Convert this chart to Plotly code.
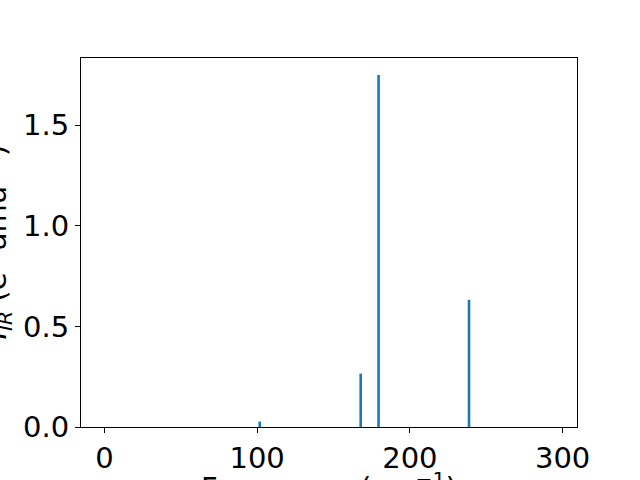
import plotly.graph_objects as go

freqs = [101.7, 167.8, 179.5, 238.7]
intensities = [0.027, 0.265, 1.749, 0.632]
x_ticks = [0, 100, 200, 300]
y_ticks = [0.0, 0.5, 1.0, 1.5]
y_tick_labels = ["0.0", "0.5", "1.0", "1.5"]

FONT = "DejaVu Sans"
FS = 29

fig = go.Figure()
fig.add_trace(go.Bar(x=freqs, y=intensities, width=1.7,
                     marker=dict(color="#1f77b4", line=dict(width=0))))

fig.update_layout(
    width=640, height=480,
    margin=dict(l=81, r=63, t=58, b=53, autoexpand=False),
    paper_bgcolor="white", plot_bgcolor="white",
    showlegend=False,
    font=dict(family=FONT, size=FS, color="black"),
    xaxis=dict(range=[-15.3, 309.4], tickvals=x_ticks, ticks="outside", ticklen=5,
               tickwidth=1, tickcolor="black", showline=True, linecolor="black",
               linewidth=1, mirror=True, showgrid=False, zeroline=False,
               tickfont=dict(family=FONT, size=FS)),
    yaxis=dict(range=[0, 1.833], tickvals=y_ticks, ticktext=y_tick_labels,
               ticks="outside", ticklen=5, tickwidth=1, tickcolor="black",
               showline=True, linecolor="black", linewidth=1, mirror=True,
               showgrid=False, zeroline=False, tickfont=dict(family=FONT, size=FS)),
    annotations=[
        dict(text="Frequency (cm<sup>−1</sup>)", xref="paper", yref="paper",
             x=0.5, y=-0.104, xanchor="center", yanchor="top", showarrow=False,
             font=dict(family=FONT, size=FS)),
        dict(text="<i>I</i><sub><i>IR</i></sub> (e<sup>2</sup> amu<sup>−1</sup>)",
             xref="paper", yref="paper", x=(-5 - 81) / 496, y=0.5,
             xanchor="center", yanchor="middle", textangle=-90, showarrow=False,
             font=dict(family=FONT, size=FS)),
    ],
)

fig.write_html("out.html", config={"displayModeBar": False},
               post_script="document.body.style.margin='0';document.body.style.overflow='hidden';")
